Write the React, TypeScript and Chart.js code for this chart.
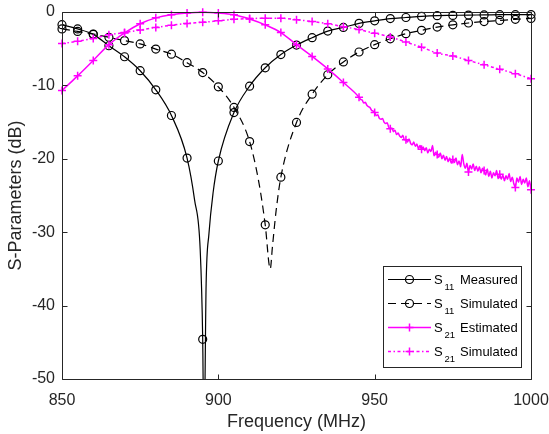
import { useEffect, useRef } from 'react';
import { Chart, registerables } from 'chart.js';

Chart.register(...registerables);

const W = 549;
const H = 434;
const FONT = '"Liberation Sans", Arial, Helvetica, sans-serif';
const AXIS_COLOR = '#262626';

// x ticks / y ticks
const xTicks = [850, 900, 950, 1000];
const yTicks = [0, -10, -20, -30, -40, -50];

// S11 Measured
const s11MeasFreq = [850, 855, 860, 865, 870, 875, 880, 885, 890, 892.4, 894.2, 895, 895.4, 896.1, 897, 898.3, 900, 905, 910, 915, 920, 925, 930, 935, 940, 945, 950, 955, 960, 965, 970, 975, 980, 985, 990, 995, 1000];
const s11MeasDb = [-1.73, -2.3, -3.05, -4.6, -6.1, -8.0, -10.6, -14.1, -19.9, -25.6, -32.4, -44.6, -60, -37, -30.2, -24.7, -20.3, -13.7, -10.1, -7.6, -5.8, -4.5, -3.5, -2.6, -2.1, -1.55, -1.2, -0.9, -0.75, -0.6, -0.5, -0.46, -0.42, -0.4, -0.37, -0.36, -0.35];

// S11 Simulated
const s11SimFreq = [850, 855, 860, 865, 870, 875, 880, 885, 890, 895, 900, 905, 910, 913, 915, 916.6, 917.3, 918.5, 920, 925, 930, 935, 940, 945, 950, 955, 960, 965, 970, 975, 980, 985, 990, 995, 1000];
const s11SimDb = [-2.3, -2.65, -3.0, -3.45, -3.9, -4.35, -5.05, -5.75, -6.9, -8.25, -10.2, -13.0, -17.65, -23.3, -29.0, -35.0, -32.0, -27.0, -22.5, -15.05, -11.2, -8.55, -6.8, -5.45, -4.45, -3.65, -2.95, -2.5, -2.05, -1.75, -1.5, -1.3, -1.15, -1.0, -0.87];

// S21 Estimated (smooth part, 5 MHz; noisy tail, 0.5 MHz)
const s21EstFreq = [850, 855, 860, 865, 870, 875, 880, 885, 890, 895, 900, 905, 910, 915, 920, 925, 930, 935, 940, 945,
  945.5, 946, 946.5, 947, 947.5, 948, 948.5, 949, 949.5, 950, 950.5, 951, 951.5, 952, 952.5, 953, 953.5, 954, 954.5, 955,
  955.5, 956, 956.5, 957, 957.5, 958, 958.5, 959, 959.5, 960, 960.5, 961, 961.5, 962, 962.5, 963, 963.5, 964, 964.5, 965,
  965.5, 966, 966.5, 967, 967.5, 968, 968.5, 969, 969.5, 970, 970.5, 971, 971.5, 972, 972.5, 973, 973.5, 974, 974.5, 975,
  975.5, 976, 976.5, 977, 977.5, 978, 978.5, 979, 979.5, 980, 980.5, 981, 981.5, 982, 982.5, 983, 983.5, 984, 984.5, 985,
  985.5, 986, 986.5, 987, 987.5, 988, 988.5, 989, 989.5, 990, 990.5, 991, 991.5, 992, 992.5, 993, 993.5, 994, 994.5, 995,
  995.5, 996, 996.5, 997, 997.5, 998, 998.5, 999, 999.5, 1000];
const s21EstDb = [-10.7, -8.7, -6.6, -4.45, -2.85, -1.6, -0.8, -0.37, -0.14, -0.05, -0.14, -0.37, -0.95, -1.75, -2.8, -4.45, -6.05, -7.75, -9.6, -11.6,
  -11.9, -12.0, -12.4, -12.3, -12.7, -12.9, -13.0, -13.4, -13.5, -13.7, -14.1, -14.0, -14.5, -14.6, -14.5, -15.0, -15.2, -15.1, -15.7, -15.9,
  -15.8, -16.3, -16.1, -16.7, -16.5, -16.9, -17.1, -16.8, -17.4, -17.4, -17.7, -17.3, -17.9, -18.1, -17.7, -18.3, -18.0, -18.6, -18.2, -18.7,
  -18.4, -18.9, -18.5, -19.2, -18.7, -19.0, -18.2, -19.6, -19.1, -19.4, -19.8, -19.2, -20.0, -19.5, -20.2, -19.7, -20.4, -19.9, -20.6, -20.1,
  -20.5, -19.9, -20.8, -20.3, -21.1, -19.4, -20.7, -21.3, -20.6, -21.8, -20.9, -21.4, -20.7, -21.6, -21.0, -21.7, -21.1, -21.9, -21.3, -21.6,
  -22.2, -21.4, -22.4, -21.7, -22.6, -21.9, -22.3, -21.6, -22.7, -22.1, -22.8, -22.2, -23.0, -22.3, -22.8, -22.0, -23.1, -22.5, -23.4, -23.9,
  -22.6, -23.2, -22.4, -23.5, -22.8, -23.3, -22.6, -23.8, -23.0, -24.2];

// S21 Simulated
const s21SimFreq = [850, 855, 860, 865, 870, 875, 880, 885, 890, 895, 900, 905, 910, 915, 920, 925, 930, 935, 940, 945, 950, 955, 960, 965, 970, 975, 980, 985, 990, 995, 1000];
const s21SimDb = [-4.3, -4.0, -3.6, -3.1, -2.8, -2.45, -2.1, -1.8, -1.55, -1.4, -1.2, -1.0, -0.9, -0.85, -0.85, -1.05, -1.3, -1.6, -2.0, -2.4, -2.9, -3.4, -4.1, -4.8, -5.6, -6.0, -6.6, -7.2, -7.8, -8.4, -9.1];

const legendLabels = ['Measured', 'Simulated', 'Estimated', 'Simulated'];
const legendSubs = ['11', '11', '21', '21'];

const BLACK = '#000000';
const MAGENTA = '#ff00ff';
const DASH_S11SIM = [8, 5];
const DASH_S21SIM = [3, 2.5, 1.5, 2.5];

const zip = (xs: number[], ys: number[]) => xs.map((x, i) => ({ x, y: ys[i] }));
const markerRadius = (r: number) => (ctx: any) => {
  const raw = ctx.raw;
  return raw && Math.abs(raw.x % 5) < 1e-9 ? r : 0;
};

const framePlugin = {
  id: 'frame',
  afterDatasetsDraw(chart: any) {
    const { ctx, chartArea, scales } = chart;
    const { left, right, top, bottom } = chartArea;
    ctx.save();
    ctx.strokeStyle = AXIS_COLOR;
    ctx.lineWidth = 1;
    ctx.setLineDash([]);
    ctx.beginPath();
    ctx.rect(left + 0.5, top + 0.5, right - left, bottom - top);
    ctx.stroke();
    const tl = 5;
    ctx.beginPath();
    xTicks.forEach((v) => {
      const px = Math.round(scales.x.getPixelForValue(v)) + 0.5;
      ctx.moveTo(px, bottom + 0.5);
      ctx.lineTo(px, bottom + 0.5 - tl);
      ctx.moveTo(px, top + 0.5);
      ctx.lineTo(px, top + 0.5 + tl);
    });
    yTicks.forEach((v) => {
      const py = Math.round(scales.y.getPixelForValue(v)) + 0.5;
      ctx.moveTo(left + 0.5, py);
      ctx.lineTo(left + 0.5 + tl, py);
      ctx.moveTo(right + 0.5, py);
      ctx.lineTo(right + 0.5 - tl, py);
    });
    ctx.stroke();
    ctx.restore();
  },
};

const legendPlugin = {
  id: 'boxLegend',
  afterDraw(chart: any) {
    const ctx = chart.ctx;
    ctx.save();
    const x0 = 383.5, y0 = 266.5, w = 138, h = 101;
    ctx.fillStyle = '#ffffff';
    ctx.fillRect(x0, y0, w, h);
    ctx.strokeStyle = AXIS_COLOR;
    ctx.lineWidth = 1;
    ctx.setLineDash([]);
    ctx.strokeRect(x0, y0, w, h);
    const styles = [
      { color: BLACK, dash: [] as number[], width: 1.2, marker: 'circle' },
      { color: BLACK, dash: DASH_S11SIM, width: 1.2, marker: 'circle' },
      { color: MAGENTA, dash: [] as number[], width: 1.5, marker: 'cross' },
      { color: MAGENTA, dash: DASH_S21SIM, width: 1.5, marker: 'cross' },
    ];
    styles.forEach((s, i) => {
      const y = 279.5 + i * 24;
      ctx.beginPath();
      ctx.setLineDash(s.dash);
      ctx.strokeStyle = s.color;
      ctx.lineWidth = s.width;
      ctx.moveTo(388, y);
      ctx.lineTo(431, y);
      ctx.stroke();
      ctx.setLineDash([]);
      ctx.lineWidth = s.marker === 'circle' ? 1.2 : 1.5;
      ctx.beginPath();
      if (s.marker === 'circle') {
        ctx.arc(409.5, y, 4, 0, Math.PI * 2);
      } else {
        ctx.moveTo(405.5, y);
        ctx.lineTo(413.5, y);
        ctx.moveTo(409.5, y - 4);
        ctx.lineTo(409.5, y + 4);
      }
      ctx.stroke();
      ctx.fillStyle = '#000000';
      ctx.textBaseline = 'alphabetic';
      ctx.textAlign = 'left';
      ctx.font = `13px ${FONT}`;
      ctx.fillText('S', 434, y + 4.7);
      ctx.font = `9.5px ${FONT}`;
      ctx.fillText(legendSubs[i], 444.5, y + 10);
      ctx.font = `13px ${FONT}`;
      ctx.fillText(legendLabels[i], 460, y + 4.7);
    });
    ctx.restore();
  },
};

export default function App() {
  const ref = useRef<HTMLCanvasElement>(null);
  useEffect(() => {
    document.body.style.margin = '0';
    const clip = { left: 8, right: 8, top: 8, bottom: 0 };
    const chart = new Chart(ref.current as HTMLCanvasElement, {
      type: 'line',
      data: {
        datasets: [
          {
            label: 'S21 Simulated',
            data: zip(s21SimFreq, s21SimDb),
            borderColor: MAGENTA,
            borderWidth: 1.5,
            borderDash: DASH_S21SIM,
            pointStyle: 'cross',
            pointRadius: markerRadius(4),
            pointBorderColor: MAGENTA,
            pointBorderWidth: 1.5,
            cubicInterpolationMode: 'monotone',
            clip,
          } as any,
          {
            label: 'S21 Estimated',
            data: zip(s21EstFreq, s21EstDb),
            borderColor: MAGENTA,
            borderWidth: 1.5,
            pointStyle: 'cross',
            pointRadius: markerRadius(4),
            pointBorderColor: MAGENTA,
            pointBorderWidth: 1.5,
            cubicInterpolationMode: 'monotone',
            clip,
          } as any,
          {
            label: 'S11 Simulated',
            data: zip(s11SimFreq, s11SimDb),
            borderColor: BLACK,
            borderWidth: 1.2,
            borderDash: DASH_S11SIM,
            pointStyle: 'circle',
            pointRadius: markerRadius(4),
            pointBorderColor: BLACK,
            pointBackgroundColor: 'rgba(0,0,0,0)',
            pointBorderWidth: 1.2,
            cubicInterpolationMode: 'monotone',
            clip,
          } as any,
          {
            label: 'S11 Measured',
            data: zip(s11MeasFreq, s11MeasDb),
            borderColor: BLACK,
            borderWidth: 1.2,
            pointStyle: 'circle',
            pointRadius: markerRadius(4),
            pointBorderColor: BLACK,
            pointBackgroundColor: 'rgba(0,0,0,0)',
            pointBorderWidth: 1.2,
            cubicInterpolationMode: 'monotone',
            clip,
          } as any,
        ],
      },
      options: {
        animation: false,
        responsive: false,
        devicePixelRatio: 1,
        layout: { padding: { left: 0, right: 18, top: 12, bottom: 0 } },
        plugins: { legend: { display: false }, tooltip: { enabled: false } },
        elements: { point: { hoverRadius: 0 } },
        scales: {
          x: {
            type: 'linear',
            min: 850,
            max: 1000,
            grid: { display: false, drawTicks: false },
            border: { display: false },
            ticks: {
              stepSize: 50,
              autoSkip: false,
              maxRotation: 0,
              padding: 12,
              color: AXIS_COLOR,
              font: { family: FONT, size: 16 },
              callback: (v: any) => String(v),
            },
            title: {
              display: true,
              text: 'Frequency (MHz)',
              color: AXIS_COLOR,
              font: { family: FONT, size: 18 },
              padding: { top: 0, bottom: 1.5 },
            },
            afterFit: (s: any) => {
              s.height = 55;
              s.paddingLeft = 0;
              s.paddingRight = 0;
            },
          },
          y: {
            type: 'linear',
            min: -50,
            max: 0,
            grid: { display: false, drawTicks: false },
            border: { display: false },
            ticks: {
              stepSize: 10,
              autoSkip: false,
              padding: 7,
              color: AXIS_COLOR,
              font: { family: FONT, size: 16 },
              callback: (v: any) => String(v),
            },
            title: {
              display: true,
              text: 'S-Parameters (dB)',
              color: AXIS_COLOR,
              font: { family: FONT, size: 18 },
              padding: { top: 5.5, bottom: 0 },
            },
            afterFit: (s: any) => {
              s.width = 62;
              s.paddingTop = 0;
              s.paddingBottom = 0;
            },
          },
        },
      },
      plugins: [framePlugin, legendPlugin],
    });
    return () => chart.destroy();
  }, []);
  return (
    <div style={{ width: W, height: H }}>
      <canvas ref={ref} width={W} height={H} style={{ display: 'block' }} />
    </div>
  );
}
